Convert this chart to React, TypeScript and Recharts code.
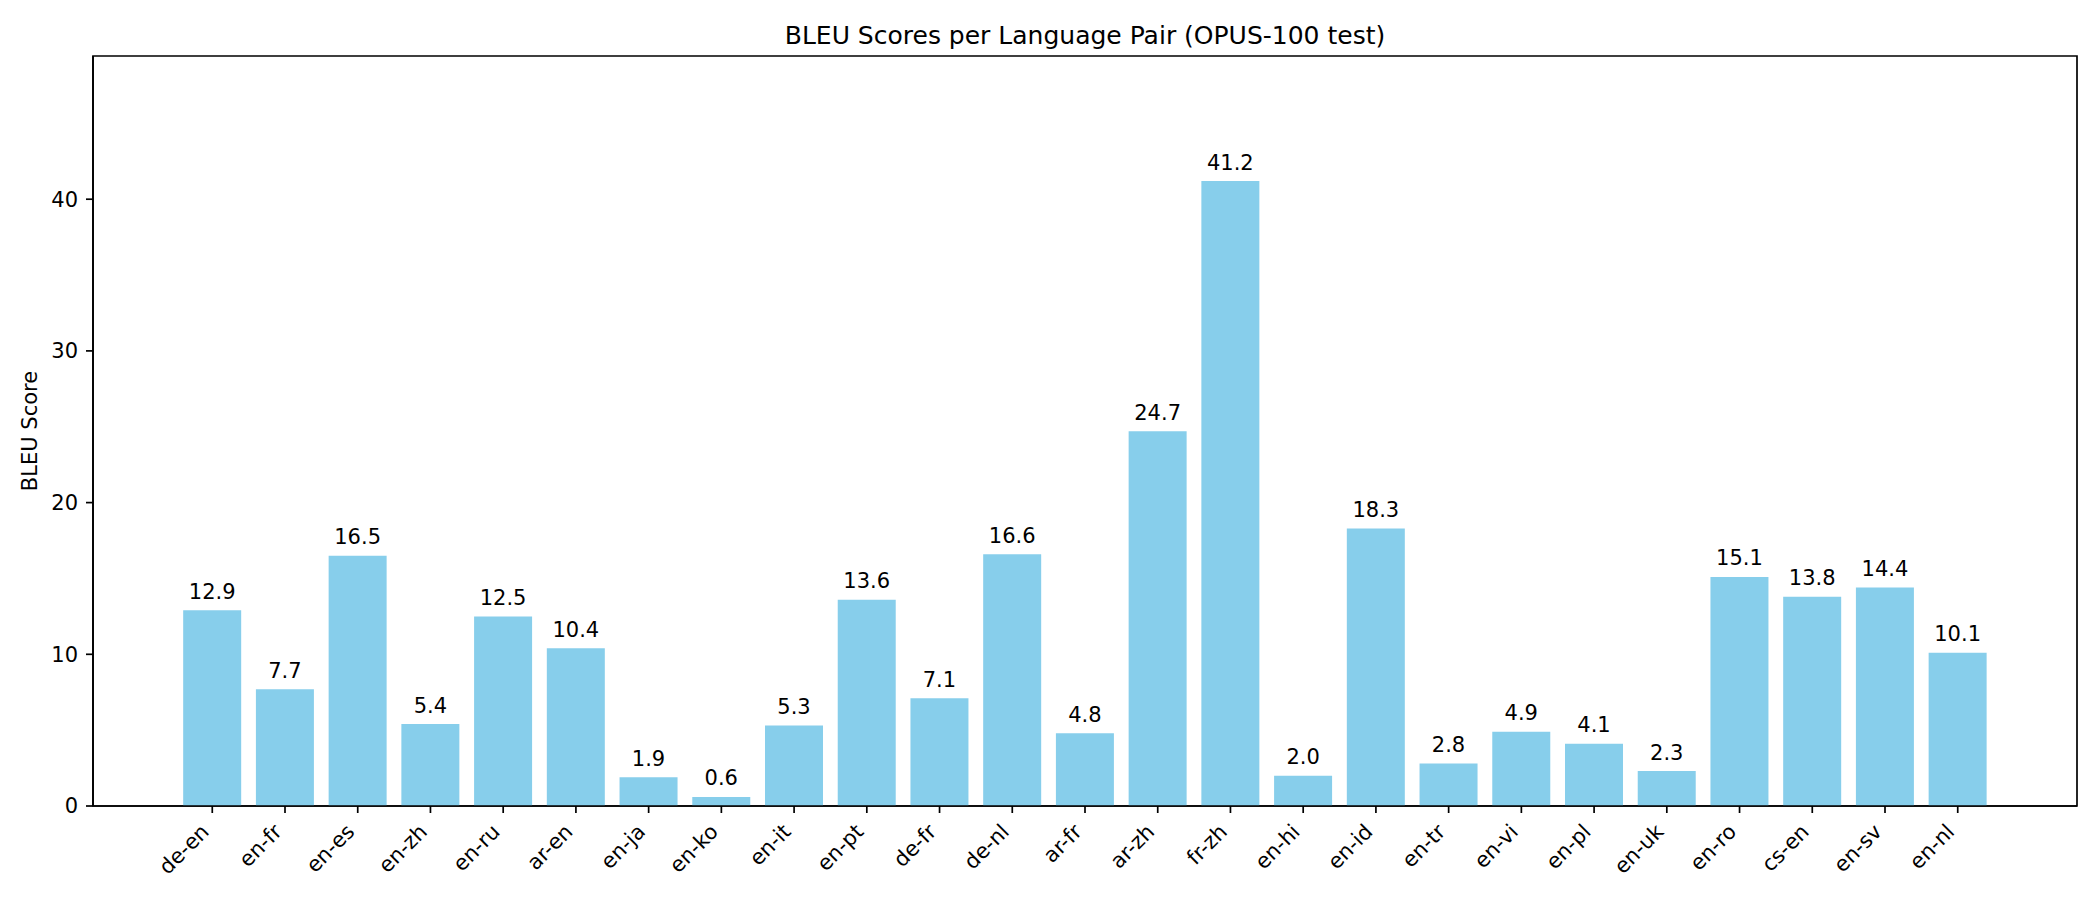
import React from 'react';
import { BarChart, Bar, XAxis, YAxis, LabelList, ReferenceArea } from 'recharts';

const pairs = ['de-en', 'en-fr', 'en-es', 'en-zh', 'en-ru', 'ar-en', 'en-ja', 'en-ko', 'en-it', 'en-pt', 'de-fr', 'de-nl', 'ar-fr', 'ar-zh', 'fr-zh', 'en-hi', 'en-id', 'en-tr', 'en-vi', 'en-pl', 'en-uk', 'en-ro', 'cs-en', 'en-sv', 'en-nl'];
const bleu = [12.9, 7.7, 16.5, 5.4, 12.5, 10.4, 1.9, 0.6, 5.3, 13.6, 7.1, 16.6, 4.8, 24.7, 41.2, 2.0, 18.3, 2.8, 4.9, 4.1, 2.3, 15.1, 13.8, 14.4, 10.1];
const yTicks = [0, 10, 20, 30, 40];
const titleText = 'BLEU Scores per Language Pair (OPUS-100 test)';
const yLabelText = 'BLEU Score';

const data = pairs.map((p, i) => ({ idx: i, pair: p, bleu: bleu[i] }));
const xTicks = pairs.map((_, i) => i);
// matplotlib-like x limits: bars span [-0.4, n-0.6], plus 5% margins
const span = pairs.length - 1 + 0.8;
const xMin = -0.4 - span * 0.05;
const xMax = pairs.length - 1 + 0.4 + span * 0.05;
const yMax = Math.max(...bleu) * 1.2;

const FONT = 'DejaVu Sans, sans-serif';
const FS = 21;
const SPINE = { stroke: '#000', strokeWidth: 1.7 };

const XTick = (props: any) => {
  const { x, y, payload } = props;
  const label = pairs[Math.round(payload.value)] ?? '';
  return (
    <g transform={`translate(${x - 2},${y + 13})`}>
      <text transform="rotate(-45)" x={0} y={0} textAnchor="end" fontSize={FS} fontFamily={FONT} fill="#000">
        {label}
      </text>
    </g>
  );
};

const YLabel = (props: any) => {
  const vb = props.viewBox || {};
  const cy = (vb.y ?? 56) + (vb.height ?? 749) / 2;
  return (
    <text transform={`translate(37.3,${cy}) rotate(-90)`} textAnchor="middle" fontSize={FS} fontFamily={FONT} fill="#000">
      {yLabelText}
    </text>
  );
};

const TitleLabel = (props: any) => {
  const vb = props.viewBox || {};
  const cx = (vb.x ?? 93) + (vb.width ?? 1984) / 2;
  return (
    <text x={cx} y={43.5} textAnchor="middle" fontSize={25} fontFamily={FONT} fill="#000">
      {titleText}
    </text>
  );
};

export default function App() {
  return (
    <div style={{ position: 'absolute', left: 0, top: 0, width: 2100, height: 900, background: '#fff' }}>
      <BarChart
        width={2100}
        height={900}
        data={data}
        margin={{ top: 56, right: 23, bottom: 0, left: 0 }}
        barCategoryGap="10%"
      >
        <XAxis
          dataKey="idx"
          type="number"
          domain={[xMin, xMax]}
          ticks={xTicks}
          allowDataOverflow
          interval={0}
          height={94}
          tick={<XTick />}
          tickSize={7}
          tickMargin={7}
          axisLine={SPINE}
          tickLine={SPINE}
        />
        <YAxis
          type="number"
          domain={[0, yMax]}
          ticks={yTicks}
          allowDataOverflow
          width={93}
          tickSize={7}
          tickMargin={8}
          tick={{ fontSize: FS, fontFamily: FONT, fill: '#000' }}
          axisLine={SPINE}
          tickLine={SPINE}
          label={<YLabel />}
        />
        <Bar dataKey="bleu" fill="#87CEEB" isAnimationActive={false}>
          <LabelList
            dataKey="bleu"
            position="top"
            offset={11.5}
            fontSize={FS}
            fontFamily={FONT}
            fill="#000"
            formatter={(v: any) => Number(v).toFixed(1)}
          />
        </Bar>
        <ReferenceArea
          x1={xMin}
          x2={xMax}
          y1={0}
          y2={yMax}
          fill="none"
          fillOpacity={0}
          stroke="#000"
          strokeWidth={1.7}
          ifOverflow="visible"
          label={<TitleLabel />}
        />
      </BarChart>
    </div>
  );
}
